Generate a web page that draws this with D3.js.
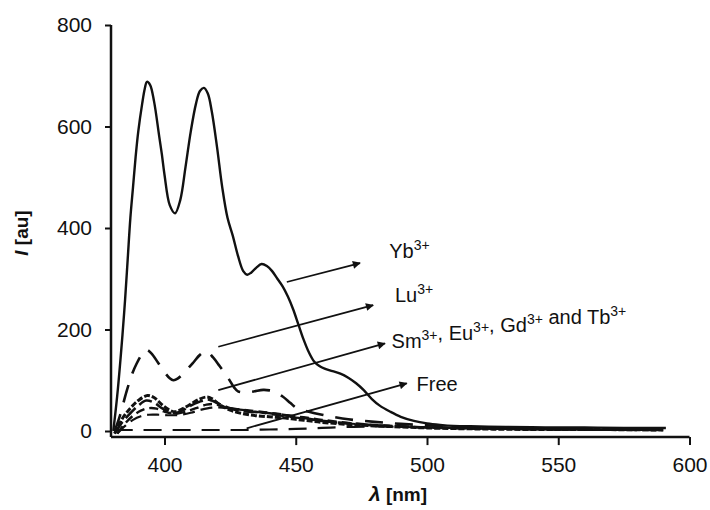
<!DOCTYPE html>
<html><head><meta charset="utf-8">
<script src="https://cdn.jsdelivr.net/npm/d3@7"></script>
<style>
body{margin:0;background:#fff;}
text{font-family:"Liberation Sans",Arial,sans-serif;fill:#111;}
</style></head>
<body><svg id="c" width="710" height="510"></svg>
<script>
// ---- data ----
const xTicks = [400, 450, 500, 550, 600];
const yTicks = [0, 200, 400, 600, 800];
const seriesNames = ["Yb3+", "Lu3+", "Sm3+", "Eu3+", "Gd3+", "Tb3+", "Free"];
const yb = [[380.5,0],[382,70],[384,190],[385,260],[386,340],[387,420],[388,480],[389,540],[390,590],[391.5,645],[392.5,675],[393.3,688],[394.5,682],[396,650],[398,580],[399,545],[400,505],[402,445],[404,429],[406,455],[408,520],[410,590],[412,645],[413.5,670],[415,676],[416.5,665],[418,630],[420,560],[422,480],[424,420],[426,385],[428,345],[430,315],[431.5,308],[433,312],[435,322],[437,329],[439,325],[441,315],[443,300],[445,285],[447,265],[449,240],[451,210],[453,180],[455,155],[457,137],[459,128],[461,123],[464,118],[467,113],[470,105],[473,94],[476,80],[479,63],[482,50],[486,38],[490,28],[495,20],[500,15],[505,12],[510,10],[520,9],[530,8],[545,7],[560,7],[575,6],[591,6]];
const lu = [[381,0],[383,30],[385.5,77],[387.5,110],[389.4,133],[391.5,152],[393.2,160],[395,153],[397.5,135],[400,116],[402,104],[403.4,100],[405,103],[408,118],[411,135],[413.5,150],[416,157],[418.5,145],[421,128],[424.3,104],[426.5,86],[428,78],[431,76],[434,78],[437.6,81],[440,80],[442,77],[445,68],[448,55],[450.4,45],[455,38],[460,32],[465,27],[470,23],[480,18],[490,14],[500,11],[510,9],[520,7],[530,6],[545,5],[560,5],[575,4],[590,4]];
const sm = [[381,-5],[384,25],[387,45],[390,60],[393.5,70],[396,66],[399,52],[402,41],[404,38],[407,44],[410,53],[413,62],[416,67],[418,64],[421,52],[425,41],[430,34],[435,30],[440,28],[445,26],[450,23],[455,20],[460,17],[470,13],[480,10],[490,8],[500,6],[520,4],[540,3],[560,3],[590,2]];
const eu = [[381,-5],[384,18],[387,35],[390,50],[393,60],[396,56],[399,45],[402,37],[404,35],[407,41],[410,50],[413,57],[416,62],[418,60],[421,53],[425,45],[428,40],[432,38],[436,37],[440,35],[445,32],[450,28],[455,24],[460,20],[470,15],[480,11],[490,9],[500,7],[520,5],[540,4],[560,3],[590,2]];
const gd = [[382,-5],[385,15],[388,30],[391,40],[394,45],[397,44],[400,38],[404,34],[408,38],[412,45],[416,52],[419,53],[423,47],[428,43],[433,40],[438,37],[443,34],[448,30],[453,27],[460,22],[470,16],[480,12],[490,9],[500,7],[520,5],[540,4],[560,3],[590,2]];
const tb = [[382,-5],[385,10],[388,22],[391,29],[394,32],[398,32],[402,31],[406,32],[410,36],[414,42],[418,46],[422,46],[427,43],[432,40],[437,36],[442,32],[447,28],[452,25],[458,21],[465,17],[475,13],[485,10],[495,8],[510,6],[530,4],[550,3],[570,2],[590,2]];
const free = [[381,2],[390,2],[400,2],[410,2],[420,2],[430,2],[440,3],[450,4],[460,6],[470,8],[480,9],[490,8],[500,7],[510,6],[520,5],[530,4],[545,3],[560,2],[575,2],[590,2]];
const labels = ["Yb", "Lu", "Sm", "Free"];

// ---- layout ----
const svg = d3.select("#c");
const x = d3.scaleLinear().domain([400, 600]).range([164.5, 689.5]);
const y = d3.scaleLinear().domain([0, 800]).range([431, 25]);
const yBase = -12;

// axes
const gx = svg.append("g").attr("transform", `translate(0,${y(yBase)})`)
  .call(d3.axisBottom(x).tickValues(xTicks).tickSizeOuter(0).tickSize(8).tickPadding(12));
gx.select(".domain").remove();
gx.append("line").attr("x1", 111).attr("x2", x(600)).attr("stroke", "#111").attr("stroke-width", 2.5);
gx.selectAll(".tick line").attr("stroke", "#111").attr("stroke-width", 2);
gx.selectAll(".tick text").attr("font-size", 21).attr("fill", "#111")
  .attr("font-family", "Liberation Sans, Arial, sans-serif");

const gy = svg.append("g").attr("transform", `translate(111,0)`)
  .call(d3.axisLeft(y).tickValues(yTicks).tickSizeOuter(0).tickSize(6).tickPadding(13));
gy.select(".domain").remove();
gy.append("line").attr("y1", y(800)).attr("y2", y(yBase)).attr("stroke", "#111").attr("stroke-width", 2.5);
gy.selectAll(".tick line").attr("stroke", "#111").attr("stroke-width", 2);
gy.selectAll(".tick text").attr("font-size", 21).attr("fill", "#111")
  .attr("font-family", "Liberation Sans, Arial, sans-serif");

// axis titles
const xt = svg.append("text").attr("x", 398).attr("y", 501).attr("text-anchor", "middle")
  .attr("font-size", 19).attr("font-weight", "bold");
xt.append("tspan").attr("font-style", "italic").attr("font-size", 21).text("λ");
xt.append("tspan").text("  [nm]");
const yt = svg.append("text").attr("transform", "translate(28,233) rotate(-90)")
  .attr("text-anchor", "middle").attr("font-size", 19).attr("font-weight", "bold");
yt.append("tspan").attr("font-style", "italic").text("I");
yt.append("tspan").text(" [au]");

// lines
const line = d3.line().x(d => x(d[0])).y(d => y(d[1])).curve(d3.curveCatmullRom.alpha(0.5));
const series = [
  {d: free, dash: "18,11", w: 2.2},
  {d: tb, dash: "12,6", w: 2.2},
  {d: gd, dash: "9,5", w: 2.4},
  {d: eu, dash: "14,5", w: 2.6},
  {d: sm, dash: "6,2", w: 3.0},
  {d: lu, dash: "18,12", w: 2.6},
  {d: yb, dash: null, w: 2.4}
];
svg.append("clipPath").attr("id", "pc").append("rect")
  .attr("x", 111).attr("y", 0).attr("width", 600).attr("height", y(yBase) - 1);
series.forEach(s => {
  svg.append("path").attr("d", line(s.d)).attr("fill", "none").attr("stroke", "#111")
    .attr("stroke-width", s.w).attr("stroke-dasharray", s.dash).attr("clip-path", "url(#pc)");
});

// annotations with arrows
svg.append("defs").append("marker").attr("id", "ah").attr("viewBox", "0 0 10 10")
  .attr("refX", 9).attr("refY", 5).attr("markerWidth", 11).attr("markerHeight", 8)
  .attr("markerUnits", "userSpaceOnUse").attr("orient", "auto")
  .append("path").attr("d", "M0,0L10,5L0,10z").attr("fill", "#111");
const arrows = [
  {from: [446.6, 293.6], to: [474.5, 331], tx: [485.6, 340], parts: [["Yb", "3+"]]},
  {from: [420.5, 166], to: [479.5, 248], tx: [487.8, 254], parts: [["Lu", "3+"]]},
  {from: [420.5, 80.6], to: [484, 172.5], tx: [486.5, 163], parts: [["Sm", "3+"], [", Eu", "3+"], [", Gd", "3+"], [" and Tb", "3+"]]},
  {from: [431.3, 5.3], to: [492.3, 94], tx: [496, 79], parts: [["Free", ""]]}
];
arrows.forEach(a => {
  svg.append("line").attr("x1", x(a.from[0])).attr("y1", y(a.from[1]))
    .attr("x2", x(a.to[0])).attr("y2", y(a.to[1])).attr("stroke", "#111").attr("stroke-width", 1.8)
    .attr("marker-end", "url(#ah)");
  const t = svg.append("text").attr("x", x(a.tx[0])).attr("y", y(a.tx[1])).attr("font-size", 20);
  a.parts.forEach(p => {
    t.append("tspan").attr("dy", 0).text(p[0]);
    if (p[1]) {
      t.append("tspan").attr("font-size", 14).attr("dy", -8).text(p[1]);
      t.append("tspan").attr("font-size", 20).attr("dy", 8).text("");
    }
  });
});
</script></body></html>
